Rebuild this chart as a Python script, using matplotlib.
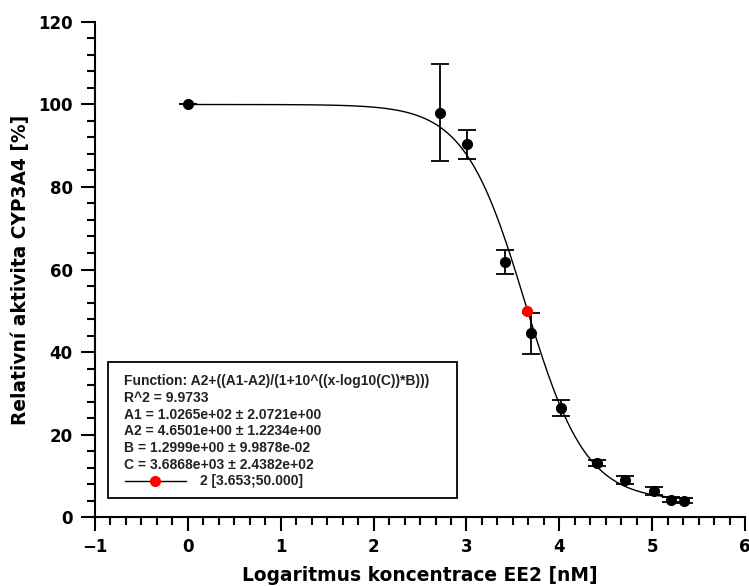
import numpy as np
import matplotlib
matplotlib.use('Agg')
import matplotlib.pyplot as plt
from matplotlib.ticker import MultipleLocator
from matplotlib.patches import Rectangle
from matplotlib.lines import Line2D

# namerene body (log koncentrace, aktivita, chyba)
log_c = [0.0, 2.72, 3.01, 3.41, 3.70, 4.02, 4.41, 4.71, 5.02, 5.20, 5.34]
aktivita = [100.0, 98.0, 90.4, 61.8, 44.5, 26.4, 13.1, 9.0, 6.3, 4.2, 3.9]
chyba = [0.0, 11.7, 3.5, 3.0, 5.0, 2.0, 0.8, 0.9, 0.9, 0.6, 0.6]

# bod IC50
ic50_x = [3.653]
ic50_y = [50.0]

# parametry krivky podle obrazku
A1, A2, B, logC = 100.0, 4.0, 1.33, 3.631
krivka_od, krivka_do = 0.0, 5.4

legenda = ["Function: A2+((A1-A2)/(1+10^((x-log10(C))*B)))",
           "R^2 = 9.9733",
           "A1 = 1.0265e+02 ± 2.0721e+00",
           "A2 = 4.6501e+00 ± 1.2234e+00",
           "B = 1.2999e+00 ± 9.9878e-02",
           "C = 3.6868e+03 ± 2.4382e+02"]
legenda_bod = "2 [3.653;50.000]"

fig = plt.figure(figsize=(7.49, 5.86), dpi=100)
ax = fig.add_axes([0.1268, 0.1177, 0.868, 0.8448])

xs = np.linspace(krivka_od, krivka_do, 400)
ys = A2 + (A1 - A2) / (1 + 10 ** ((xs - logC) * B))
ax.plot(xs, ys, color='black', lw=1.0)

ax.errorbar(log_c, aktivita, yerr=chyba, fmt='o', color='black', ms=7,
            capsize=6.5, elinewidth=1.3, capthick=1.3, zorder=3)
ax.plot(ic50_x, ic50_y, 'o', color='red', ms=7, zorder=4)

ax.set_xlim(-1, 6)
ax.set_ylim(0, 120)
ax.xaxis.set_major_locator(MultipleLocator(1))
ax.xaxis.set_minor_locator(MultipleLocator(1 / 6))
ax.yaxis.set_major_locator(MultipleLocator(20))
ax.yaxis.set_minor_locator(MultipleLocator(4))

for s in ['top', 'right']:
    ax.spines[s].set_visible(False)
for s in ['left', 'bottom']:
    ax.spines[s].set_linewidth(1.5)
ax.tick_params(which='major', length=10, width=1.5, direction='out', labelsize=12)
ax.tick_params(axis='y', which='major', pad=6)
ax.tick_params(axis='x', which='major', pad=5)
ax.tick_params(which='minor', length=5.5, width=1.5, direction='out')
for lab in ax.get_xticklabels() + ax.get_yticklabels():
    lab.set_fontweight('bold')

ax.set_xlabel('Logaritmus koncentrace EE2 [nM]', fontsize=13.4, fontweight='bold', labelpad=7)
ax.set_ylabel('Relativní aktivita CYP3A4 [%]', fontsize=13.4, fontweight='bold', labelpad=6)

# ramecek s vysledky fitu
ax.add_patch(Rectangle((0.02, 0.0384), 0.537, 0.275, transform=ax.transAxes,
                       fill=False, lw=1.3, edgecolor='black', zorder=5))
y0 = 0.274
dy = 0.0337
for i, t in enumerate(legenda):
    ax.text(0.045, y0 - i * dy, t, transform=ax.transAxes, fontsize=10,
            family='Liberation Sans', fontweight='bold', color='#222222', va='center')
yl = y0 - len(legenda) * dy
ax.add_line(Line2D([0.046, 0.14], [yl, yl], transform=ax.transAxes, color='black', lw=1.0))
ax.add_line(Line2D([0.093], [yl], transform=ax.transAxes, marker='o', color='red', ms=7))
ax.text(0.162, yl, legenda_bod, transform=ax.transAxes, fontsize=10,
        family='Liberation Sans', fontweight='bold', color='#222222', va='center')

fig.savefig('out.png', dpi=100)
